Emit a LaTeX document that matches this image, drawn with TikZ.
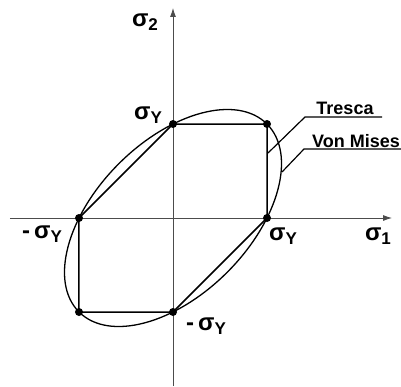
\documentclass[tikz,border=0pt]{standalone}
\usepackage{fontspec}
\setmainfont{Liberation Sans}
\usetikzlibrary{arrows.meta}
\newcommand{\sig}[2][]{{\fontsize{24}{24}\selectfont #1σ}\raisebox{-4pt}{\fontsize{17}{17}\selectfont #2}}

\begin{document}
\begin{tikzpicture}[x=1pt,y=1pt,>=Latex,font=\bfseries]
\tikzset{axis/.style={draw=black!70,line width=0.8pt,-{Latex[length=9pt,width=6pt]}},
  tresca/.style={line width=1.5pt},
  pt/.style={circle,fill=black,inner sep=0pt,minimum size=8pt},
  lbl/.style={inner sep=0pt},
  crit/.style={inner sep=0pt,font=\bfseries\fontsize{18}{18}\selectfont},
  leader/.style={line width=1.2pt}}
\useasboundingbox (-173,-168) rectangle (228,218);
\coordinate (o) at (0,0);
\coordinate (xs) at (-163,0);
\coordinate (xe) at (219,0);
\coordinate (ys) at (0,-168);
\coordinate (ye) at (0,210);
\draw[axis] (xs) -- (xe);
\draw[axis] (ys) -- (ye);
\coordinate (t) at (0,94);
\coordinate (tr) at (94,94);
\coordinate (r) at (94,0);
\coordinate (b) at (0,-94);
\coordinate (bl) at (-94,-94);
\coordinate (l) at (-94,0);
\draw[tresca] (t) -- (tr) -- (r) -- (b) -- (bl) -- (l) -- cycle;
\draw[line width=1.3pt,rotate=45] (o) ellipse [x radius=132.9,y radius=76.7];
\foreach \p in {t,tr,r,b,bl,l}
  \node[pt] at (\p) {};
\node[lbl] (s2) at (-28,196) {\sig{2}};
\node[lbl] (s1) at (205,-18) {\sig{1}};
\node[lbl] (syt) at (-25,103) {\sig{Y}};
\node[lbl] (syr) at (110,-18) {\sig{Y}};
\node[lbl] (syl) at (-131,-16) {\sig[-\,]{Y}};
\node[lbl] (syb) at (33,-108) {\sig[-\,]{Y}};
\node[crit] (tresca) at (172,110) {Tresca};
\node[crit] (mises) at (183,77) {Von Mises};
\coordinate (tresca tip) at (95,65);
\coordinate (tresca knee) at (132,101);
\coordinate (tresca end) at (209,101);
\coordinate (mises tip) at (109,46);
\coordinate (mises knee) at (131,69);
\coordinate (mises end) at (228,69);
\draw[leader] (tresca tip) -- (tresca knee) -- (tresca end);
\draw[leader] (mises tip) -- (mises knee) -- (mises end);
\end{tikzpicture}
\end{document}
